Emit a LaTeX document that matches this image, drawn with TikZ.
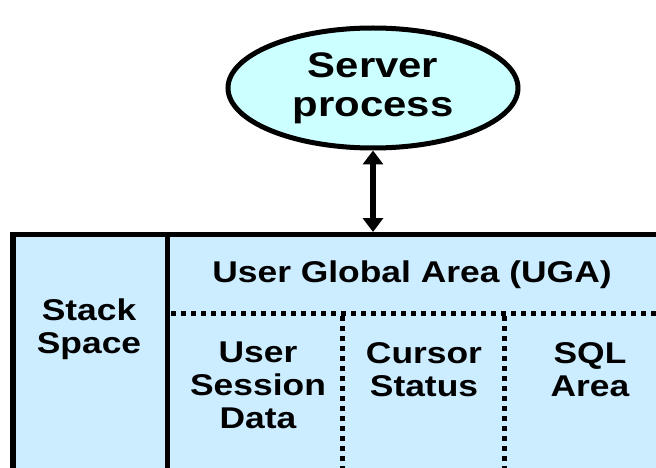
\documentclass[tikz,border=0pt]{standalone}
\usepackage{fontspec}
\setmainfont{Liberation Sans}[FakeStretch=1.18]
\usetikzlibrary{shapes.geometric,arrows.meta}
\definecolor{procfill}{RGB}{204,255,255}
\definecolor{memfill}{RGB}{204,236,255}

\begin{document}
\begin{tikzpicture}[x=1pt,y=-1pt,
   proc/.style={draw,ellipse,fill=procfill,line width=5pt,
      minimum width=290pt,minimum height=120pt,inner sep=0pt,align=center,
      font=\fontsize{35.5}{39}\selectfont\bfseries},
   lbl/.style={align=center,inner sep=0pt,font=\fontsize{30}{33}\selectfont\bfseries},
   sep/.style={line width=5pt,dash pattern=on 5pt off 5pt},
   link/.style={line width=5.5pt,
      {Triangle[width=20pt,length=14pt]}-{Triangle[width=20pt,length=14pt]}}]

\clip (0,0) rectangle (656,468);

\node[proc] (server) at (373,88) {Server\\process};

% the memory block runs off the page on the right and below
\draw[fill=memfill,line width=5.5pt] (13,234.5) rectangle (680,490);
\coordinate (memtop) at (373,232);
\draw[line width=5.5pt] (167.5,234) -- (167.5,490);
\draw[sep] (171,313) -- (660,313);
\draw[sep] (342,316) -- (342,490);
\draw[sep] (504,316) -- (504,490);

\draw[link] (server) -- (memtop);

\node[lbl] (stack) at (89,329) {Stack\\Space};
\node[lbl] (uga) at (412,275) {User Global Area (UGA)};
\node[lbl,anchor=north] (sess) at (258,342) {User\\Session\\Data};
\node[lbl,anchor=north] (curs) at (424,342) {Cursor\\Status};
\node[lbl,anchor=north] (sql) at (590,342) {SQL\\Area};

\end{tikzpicture}
\end{document}
